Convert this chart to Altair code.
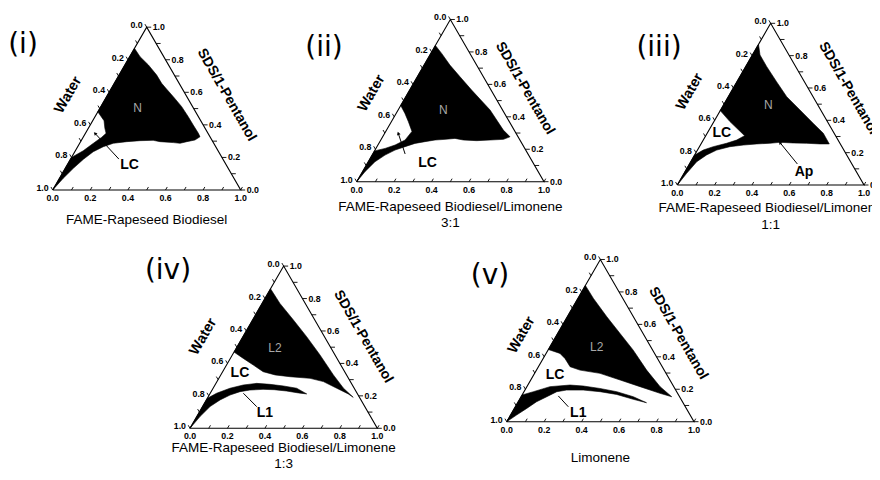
import altair as alt
import numpy as np
import pandas as pd

# ---------------- data ----------------
panel_ids = ["i", "ii", "iii", "iv", "v"]
panel_labels = ["(i)", "(ii)", "(iii)", "(iv)", "(v)"]
bottom_titles = [
    ["FAME-Rapeseed Biodiesel"],
    ["FAME-Rapeseed Biodiesel/Limonene", "3:1"],
    ["FAME-Rapeseed Biodiesel/Limonene", "1:1"],
    ["FAME-Rapeseed Biodiesel/Limonene", "1:3"],
    ["Limonene"],
]
left_title = "Water"
right_title = "SDS/1-Pentanol"

major_ticks = [0.0, 0.2, 0.4, 0.6, 0.8, 1.0]
major_labels = ["0.0", "0.2", "0.4", "0.6", "0.8", "1.0"]
minor_ticks = [0.0, 0.1, 0.2, 0.3, 0.4, 0.5, 0.6, 0.7, 0.8, 0.9, 1.0]

# triangle frame corners (oil fraction, SDS/1-pentanol fraction)
frame_oil = [0.0, 1.0, 0.0, 0.0]
frame_sds = [0.0, 0.0, 1.0, 0.0]

# phase regions, (oil, surfactant) fractions
i_N_oil = [0.0, 0.055, 0.125, 0.200, 0.252, 0.297, 0.355, 0.430, 0.496, 0.548, 0.601, 0.620,
           0.603, 0.565, 0.534, 0.497, 0.422, 0.382, 0.313, 0.246, 0.179, 0.136, 0.098, 0.069, 0.043, 0.020, 0.0,
           0.0, 0.042, 0.073, 0.099, 0.110, 0.088, 0.060, 0.0]
i_N_sds = [0.870, 0.819, 0.768, 0.706, 0.655, 0.619, 0.573, 0.512, 0.450, 0.399, 0.348, 0.327,
           0.307, 0.297, 0.287, 0.291, 0.297, 0.305, 0.303, 0.297, 0.287, 0.266, 0.235, 0.189, 0.133, 0.072, 0.0,
           0.200, 0.241, 0.287, 0.324, 0.348, 0.379, 0.426, 0.480]

ii_N_oil = [0.0, 0.058, 0.138, 0.228, 0.331, 0.491, 0.624, 0.680,
            0.653, 0.584, 0.514, 0.441, 0.391, 0.341, 0.290, 0.241, 0.193, 0.150, 0.107, 0.069, 0.036, 0.013, 0.0,
            0.0, 0.049, 0.092, 0.130, 0.140, 0.091, 0.047, 0.0]
ii_N_sds = [0.840, 0.791, 0.719, 0.647, 0.565, 0.442, 0.318, 0.277,
            0.261, 0.257, 0.253, 0.257, 0.267, 0.261, 0.257, 0.247, 0.236, 0.216, 0.195, 0.164, 0.123, 0.062, 0.0,
            0.190, 0.205, 0.226, 0.257, 0.310, 0.370, 0.421, 0.470]

iii_N_oil = [0.0, 0.041, 0.113, 0.212, 0.313, 0.425, 0.538, 0.622, 0.687,
             0.637, 0.564, 0.490, 0.418, 0.367, 0.298, 0.230, 0.163, 0.103, 0.064, 0.032, 0.014, 0.0,
             0.0, 0.031, 0.074, 0.135, 0.179, 0.208, 0.086, 0.0]
iii_N_sds = [0.870, 0.804, 0.732, 0.639, 0.546, 0.464, 0.381, 0.320, 0.254,
             0.254, 0.258, 0.260, 0.264, 0.258, 0.254, 0.247, 0.237, 0.216, 0.186, 0.144, 0.072, 0.0,
             0.185, 0.216, 0.237, 0.258, 0.278, 0.305, 0.392, 0.460]

iv_L2_oil = [0.0, 0.095, 0.218, 0.340, 0.468, 0.601, 0.696, 0.776, 0.739, 0.660, 0.568, 0.487,
             0.375, 0.290, 0.216, 0.143, 0.069, 0.0]
iv_L2_sds = [0.860, 0.770, 0.668, 0.565, 0.452, 0.329, 0.247, 0.191, 0.212, 0.247, 0.288, 0.308,
             0.318, 0.329, 0.349, 0.390, 0.431, 0.470]
iv_L1_oil = [0.0, 0.0, 0.034, 0.090, 0.151, 0.217, 0.291, 0.368, 0.446, 0.517, 0.470, 0.400,
             0.330, 0.270, 0.202, 0.154, 0.111, 0.073, 0.040, 0.017]
iv_L1_sds = [0.0, 0.185, 0.216, 0.247, 0.267, 0.277, 0.271, 0.261, 0.247, 0.212, 0.218, 0.230,
             0.238, 0.240, 0.236, 0.226, 0.205, 0.175, 0.134, 0.072]

v_L2_oil = [0.0, 0.083, 0.211, 0.333, 0.455, 0.588, 0.711, 0.804, 0.731, 0.604, 0.477, 0.349,
            0.232, 0.169, 0.116, 0.074, 0.0]
v_L2_sds = [0.840, 0.760, 0.647, 0.544, 0.441, 0.318, 0.216, 0.154, 0.175, 0.216, 0.257, 0.298,
            0.318, 0.339, 0.390, 0.421, 0.445]
v_L1_oil = [0.0, 0.0, 0.050, 0.123, 0.225, 0.299, 0.395, 0.495, 0.599, 0.688, 0.607, 0.503,
            0.406, 0.311, 0.222, 0.175, 0.137, 0.098, 0.066, 0.032]
v_L1_sds = [0.0, 0.165, 0.185, 0.216, 0.226, 0.220, 0.205, 0.185, 0.154, 0.117, 0.138, 0.168,
            0.185, 0.195, 0.195, 0.185, 0.154, 0.123, 0.082, 0.041]

regions = [
    ("i", "N", i_N_oil, i_N_sds),
    ("ii", "N", ii_N_oil, ii_N_sds),
    ("iii", "N", iii_N_oil, iii_N_sds),
    ("iv", "L2", iv_L2_oil, iv_L2_sds),
    ("iv", "L1", iv_L1_oil, iv_L1_sds),
    ("v", "L2", v_L2_oil, v_L2_sds),
    ("v", "L1", v_L1_oil, v_L1_sds),
]

# phase labels (ternary position)
ann_panel = ["i", "i", "ii", "ii", "iii", "iii", "iii", "iv", "iv", "iv", "v", "v", "v"]
ann_text = ["N", "LC", "N", "LC", "N", "LC", "Ap", "L2", "LC", "L1", "L2", "LC", "L1"]
ann_oil = [0.200, 0.332, 0.241, 0.319, 0.240, 0.078, 0.638, 0.207, 0.097, 0.354, 0.250, 0.114, 0.356]
ann_sds = [0.502, 0.154, 0.442, 0.118, 0.495, 0.320, 0.082, 0.493, 0.339, 0.092, 0.462, 0.288, 0.052]

# leader lines (label end -> target)
lead_panel = ["i", "ii", "iii", "iv", "v"]
lead_oil0 = [0.257, 0.173, 0.578, 0.290, 0.283]
lead_sds0 = [0.190, 0.171, 0.130, 0.133, 0.092]
lead_oil1 = [0.051, 0.073, 0.419, 0.177, 0.196]
lead_sds1 = [0.348, 0.298, 0.262, 0.216, 0.159]
lead_head = [True, True, True, False, False]

# ---------------- layout (page pixels) ----------------
LAYOUT = {
    "i":   dict(bx=52.7, by=190.0, side=188.0, lab=(23, 44.5), water=(68.3, 95.0), sds=(226.7, 95.0), tdy=[30.0]),
    "ii":  dict(bx=356.7, by=181.7, side=187.3, lab=(324, 48), water=(371.7, 93.3), sds=(525.0, 88.3), tdy=[25.0, 41.6]),
    "iii": dict(bx=677.3, by=185.0, side=186.7, lab=(659, 48), water=(690.0, 91.7), sds=(848.3, 88.3), tdy=[23.3, 40.0]),
    "iv":  dict(bx=190.0, by=428.3, side=187.3, lab=(168, 271), water=(203.3, 336.7), sds=(363.3, 336.7), tdy=[20.0, 36.0]),
    "v":   dict(bx=506.7, by=421.7, side=187.3, lab=(490, 276), water=(521.7, 335.0), sds=(678.3, 333.3), tdy=[36.6]),
}
SQ = np.sqrt(3) / 2
TL = 3.5  # tick length px


def tern(p, o, s):
    L = LAYOUT[p]
    o = np.asarray(o, float)
    s = np.asarray(s, float)
    return L["bx"] + L["side"] * (o + s / 2), L["by"] - L["side"] * SQ * s


# polygons
rows = []
for p, name, oo, ss in regions:
    xs, ys = tern(p, oo, ss)
    xs = list(xs) + [xs[0]]
    ys = list(ys) + [ys[0]]
    for k, (x, y) in enumerate(zip(xs, ys)):
        rows.append(dict(key=f"{p}-{name}", idx=k, x=x, y=y))
poly_df = pd.DataFrame(rows)

# frames
rows = []
for p in panel_ids:
    xs, ys = tern(p, frame_oil, frame_sds)
    for k, (x, y) in enumerate(zip(xs, ys)):
        rows.append(dict(key=p, idx=k, x=x, y=y))
frame_df = pd.DataFrame(rows)

# ticks
rows = []
for p in panel_ids:
    for v in minor_ticks:
        x, y = tern(p, v, 0.0)
        rows.append(dict(x=x, y=y, x2=x + TL * 0.5, y2=y - TL * SQ))
        x, y = tern(p, 0.0, 1 - v)
        rows.append(dict(x=x, y=y, x2=x - TL * 0.5, y2=y - TL * SQ))
        x, y = tern(p, 1 - v, v)
        rows.append(dict(x=x, y=y, x2=x + TL + 1, y2=y))
tick_df = pd.DataFrame(rows)

# tick labels
lrows, rrows, brows = [], [], []
for p in panel_ids:
    for v, t in zip(major_ticks, major_labels):
        x, y = tern(p, 0.0, 1 - v)
        lrows.append(dict(x=float(x), y=float(y), t=t))
        x, y = tern(p, 1 - v, v)
        rrows.append(dict(x=float(x), y=float(y), t=t))
        x, y = tern(p, v, 0.0)
        brows.append(dict(x=float(x), y=float(y), t=t))
left_df, right_df, bottom_df = pd.DataFrame(lrows), pd.DataFrame(rrows), pd.DataFrame(brows)

# titles
wrows, srows, trows, prow = [], [], [], []
for p, lab, lines in zip(panel_ids, panel_labels, bottom_titles):
    L = LAYOUT[p]
    wrows.append(dict(x=L["water"][0], y=L["water"][1], t=left_title))
    srows.append(dict(x=L["sds"][0], y=L["sds"][1], t=right_title))
    prow.append(dict(x=L["lab"][0], y=L["lab"][1], t=lab))
    for line, dy in zip(lines, L["tdy"]):
        trows.append(dict(x=L["bx"] + L["side"] / 2, y=L["by"] + dy, t=line))
water_df, sds_df, btitle_df, plab_df = map(pd.DataFrame, (wrows, srows, trows, prow))

# annotations
rows = []
for p, t, o, s in zip(ann_panel, ann_text, ann_oil, ann_sds):
    x, y = tern(p, o, s)
    rows.append(dict(x=float(x), y=float(y), t=t, grey=t in ("N", "L2")))
ann_df = pd.DataFrame(rows)

rows, hrows = [], []
for p, o0, s0, o1, s1, h in zip(lead_panel, lead_oil0, lead_sds0, lead_oil1, lead_sds1, lead_head):
    x0, y0 = tern(p, o0, s0)
    x1, y1 = tern(p, o1, s1)
    rows.append(dict(x=float(x0), y=float(y0), x2=float(x1), y2=float(y1)))
    if h:
        ang = (np.degrees(np.arctan2(x1 - x0, -(y1 - y0))) + 360) % 360
        hrows.append(dict(x=float(x1), y=float(y1), a=float(ang)))
lead_df, head_df = pd.DataFrame(rows), pd.DataFrame(hrows)

# ---------------- chart ----------------
W, H = 864, 462
XS = alt.Scale(domain=[8, 8 + W], nice=False, zero=False)
YS = alt.Scale(domain=[8, 8 + H], nice=False, zero=False, reverse=True)
X = alt.X("x:Q", scale=XS, axis=None)
Y = alt.Y("y:Q", scale=YS, axis=None)
FONT = "Liberation Sans"

polys = alt.Chart(poly_df).mark_line(fill="black", stroke="black", strokeWidth=0.6).encode(
    x=X, y=Y, detail="key:N", order="idx:Q")
frames = alt.Chart(frame_df).mark_line(color="black", strokeWidth=1.1).encode(
    x=X, y=Y, detail="key:N", order="idx:Q")
ticks = alt.Chart(tick_df).mark_rule(color="black", strokeWidth=0.9).encode(
    x=X, y=Y, x2="x2:Q", y2="y2:Q")

tl_left = alt.Chart(left_df).mark_text(font=FONT, fontSize=8.8, fontWeight="bold", align="right",
                                       baseline="alphabetic", dx=-4, dy=1).encode(x=X, y=Y, text="t:N")
tl_right = alt.Chart(right_df).mark_text(font=FONT, fontSize=8.8, fontWeight="bold", align="left",
                                         baseline="middle", dx=6).encode(x=X, y=Y, text="t:N")
tl_bottom = alt.Chart(bottom_df).mark_text(font=FONT, fontSize=8.8, fontWeight="bold", align="center",
                                           baseline="top", dy=4).encode(x=X, y=Y, text="t:N")

water = alt.Chart(water_df).mark_text(font=FONT, fontSize=14.5, fontWeight="bold", angle=300,
                                      align="center", baseline="middle").encode(x=X, y=Y, text="t:N")
sds = alt.Chart(sds_df).mark_text(font=FONT, fontSize=14, fontWeight="bold", angle=60,
                                  align="center", baseline="middle").encode(x=X, y=Y, text="t:N")
btitle = alt.Chart(btitle_df).mark_text(font=FONT, fontSize=13.5, align="center",
                                        baseline="middle").encode(x=X, y=Y, text="t:N")
plab = alt.Chart(plab_df).mark_text(font="DejaVu Sans", fontSize=28, align="center",
                                    baseline="middle").encode(x=X, y=Y, text="t:N")

ann_grey = alt.Chart(ann_df[ann_df.grey]).mark_text(font=FONT, fontSize=12, color="#a8a8a8",
                                                    align="center", baseline="middle").encode(x=X, y=Y, text="t:N")
ann_bold = alt.Chart(ann_df[~ann_df.grey]).mark_text(font=FONT, fontSize=14, fontWeight="bold", color="black",
                                                     align="center", baseline="middle").encode(x=X, y=Y, text="t:N")
leads = alt.Chart(lead_df).mark_rule(color="black", strokeWidth=1).encode(x=X, y=Y, x2="x2:Q", y2="y2:Q")
heads = alt.Chart(head_df).mark_point(shape="triangle-up", filled=True, color="black", size=14, opacity=1).encode(
    x=X, y=Y, angle=alt.Angle("a:Q", scale=None))

chart = alt.layer(
    polys, frames, ticks, tl_left, tl_right, tl_bottom, water, sds, btitle, plab,
    leads, heads, ann_grey, ann_bold,
).properties(
    width=W, height=H, padding=0, autosize=alt.AutoSizeParams(type="none"), background="white"
).configure_view(stroke=None)

chart.save("out.html", embed_options={"renderer": "svg", "actions": False})
